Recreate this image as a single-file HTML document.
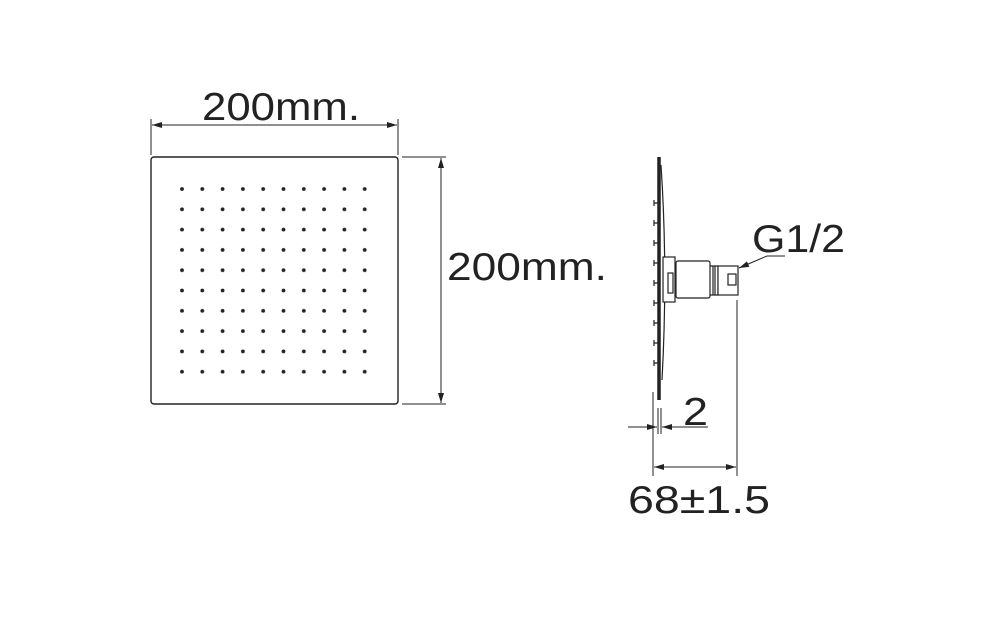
<!DOCTYPE html>
<html><head><style>body{margin:0;background:#fff}</style></head><body>
<svg width="999" height="623" viewBox="0 0 999 623" xmlns="http://www.w3.org/2000/svg" font-family="Liberation Sans, sans-serif">
<defs>
<marker id="a" viewBox="0 0 10 6" refX="10" refY="3" markerWidth="10" markerHeight="6" orient="auto-start-reverse" markerUnits="userSpaceOnUse"><path d="M0,0L10,3L0,6z" fill="#222"/></marker>
<pattern id="d" x="182" y="189" width="20.3" height="20.3" patternUnits="userSpaceOnUse"><circle cx="0" cy="0" r="1.9" fill="#222"/><circle cx="20.3" cy="0" r="1.9" fill="#222"/><circle cx="0" cy="20.3" r="1.9" fill="#222"/><circle cx="20.3" cy="20.3" r="1.9" fill="#222"/></pattern>
</defs>
<g stroke="#222" fill="none" stroke-width="1">
<rect x="151" y="157" width="247" height="247" rx="3" stroke-width="1.4"/>
<line x1="151" y1="119" x2="151" y2="155"/><line x1="398" y1="119" x2="398" y2="155"/>
<line x1="152" y1="125" x2="397" y2="125" marker-start="url(#a)" marker-end="url(#a)"/>
<line x1="402" y1="157" x2="446" y2="157"/><line x1="402" y1="404" x2="446" y2="404"/>
<line x1="441" y1="158" x2="441" y2="403" marker-start="url(#a)" marker-end="url(#a)"/>
<path d="M659,157 L659,400" stroke-width="3.5"/>
<path d="M661,165 Q668,270 662,380" stroke-width="1.2"/>
<g stroke-width="1.2">
<path d="M654,203h5M654,223h5M654,243h5M654,263h5M654,283h5M654,303h5M654,323h5M654,343h5M654,363h5"/>
<path d="M654,200v6M654,220v6M654,240v6M654,260v6M654,280v6M654,300v6M654,320v6M654,340v6M654,360v6"/>
<rect x="663" y="257" width="12" height="45" fill="#fff"/>
<rect x="668" y="273" width="5" height="20"/>
<rect x="676" y="261" width="34" height="37" rx="2" fill="#fff"/>
<path d="M710,266 L718,266 L718,295 L710,295 M713,266v29M715,266v29"/>
<rect x="718" y="266" width="20" height="29" fill="#fff"/>
<rect x="728" y="274" width="8" height="11"/>
</g>
<line x1="653" y1="392" x2="653" y2="476"/>
<line x1="737" y1="300" x2="737" y2="476"/>
<line x1="654" y1="467" x2="736" y2="467" marker-start="url(#a)" marker-end="url(#a)"/>
<line x1="658" y1="408" x2="658" y2="434"/><line x1="661" y1="408" x2="661" y2="434"/>
<line x1="628" y1="427" x2="657" y2="427" marker-end="url(#a)"/>
<line x1="708" y1="427" x2="662" y2="427" marker-end="url(#a)"/>
<line x1="785" y1="256" x2="767" y2="256"/>
<line x1="767" y1="256" x2="739" y2="268" marker-end="url(#a)"/>
</g>
<g fill="#222" font-size="39">
<text x="202" y="120" textLength="158" lengthAdjust="spacingAndGlyphs">200mm.</text>
<text x="447" y="280" textLength="160" lengthAdjust="spacingAndGlyphs">200mm.</text>
<text x="752" y="252" textLength="93" lengthAdjust="spacingAndGlyphs">G1/2</text>
<text x="683" y="425" textLength="25" lengthAdjust="spacingAndGlyphs">2</text>
<text x="628" y="513" textLength="142" lengthAdjust="spacingAndGlyphs">68±1.5</text>
</g>
<rect x="172" y="179" width="203" height="203" fill="url(#d)"/>
</svg>
</body></html>
